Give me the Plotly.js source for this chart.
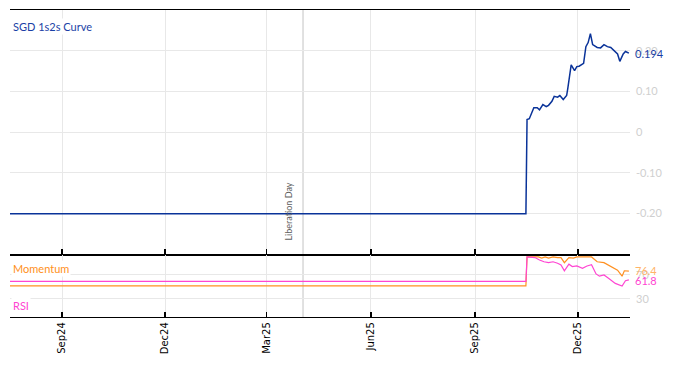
<!DOCTYPE html>
<html><head><meta charset="utf-8">
<script src="https://cdn.plot.ly/plotly-3.0.1.min.js"></script>
<style>html,body{margin:0;padding:0;background:#fff}#chart{width:674px;height:366px}</style>
</head><body><div id="chart"></div><script>
// SGD 1s2s curve
const curveDates = ['2024-07-17','2025-10-16','2025-10-17','2025-10-19','2025-10-23','2025-10-26','2025-10-28','2025-10-31','2025-11-03','2025-11-05','2025-11-08','2025-11-10','2025-11-13','2025-11-15','2025-11-18','2025-11-21','2025-11-22','2025-11-24','2025-11-25','2025-11-28','2025-11-30','2025-12-02','2025-12-06','2025-12-08','2025-12-10','2025-12-12','2025-12-14','2025-12-18','2025-12-21','2025-12-24','2025-12-27','2025-12-30','2026-01-03','2026-01-05','2026-01-07','2026-01-10','2026-01-12','2026-01-15'];
const curveValues = [-0.20,-0.20,0.031,0.033,0.060,0.060,0.055,0.068,0.063,0.066,0.076,0.088,0.086,0.090,0.080,0.090,0.107,0.155,0.165,0.151,0.161,0.162,0.169,0.210,0.220,0.242,0.215,0.208,0.207,0.215,0.210,0.208,0.196,0.192,0.174,0.192,0.198,0.194];
// Momentum
const momDates = ['2024-07-17','2025-10-16','2025-10-17','2025-10-27','2025-10-30','2025-11-02','2025-11-05','2025-11-09','2025-11-13','2025-11-16','2025-11-19','2025-11-23','2025-11-27','2025-11-30','2025-12-13','2025-12-18','2025-12-24','2025-12-28','2026-01-02','2026-01-05','2026-01-09','2026-01-11','2026-01-15'];
const momValues = [52,52,100,100,98,100,98,100,99,99,90.5,99,98,100,100,92,90.5,86.7,81,78,68,77,76.4];
// RSI
const rsiDates = ['2024-07-17','2025-10-16','2025-10-17','2025-10-20','2025-10-24','2025-10-28','2025-11-01','2025-11-05','2025-11-09','2025-11-13','2025-11-16','2025-11-19','2025-11-23','2025-11-26','2025-11-30','2025-12-05','2025-12-09','2025-12-13','2025-12-17','2025-12-20','2025-12-24','2025-12-28','2026-01-03','2026-01-09','2026-01-12','2026-01-15'];
const rsiValues = [59.5,59.5,100,100,99,95,92,90.5,92,89.5,86.7,77,88,84,85,81,85,87,71.7,68,70,64.5,56,51.7,60.5,61.8];
// axis ticks
const curveTicks = [-0.2,-0.1,0,0.1,0.2];
const curveTickText = ['-0.20','-0.10','0','0.10','0.20'];
const oscTicks = [30,70];
const eventDate = '2025-04-02';
const eventLabel = 'Liberation Day';

const blue = '#0a3399', orange = '#ff9020', pink = '#ff45d2';
const grid = '#e8e8e8';
const lastC = curveValues[curveValues.length-1];
const lastM = momValues[momValues.length-1];
const lastR = rsiValues[rsiValues.length-1];

const traces = [
  {x: curveDates, y: curveValues, type:'scatter', mode:'lines', line:{color:blue, width:1.5}, xaxis:'x', yaxis:'y', hoverinfo:'skip'},
  {x: momDates, y: momValues, type:'scatter', mode:'lines', line:{color:orange, width:1.2}, xaxis:'x2', yaxis:'y2', hoverinfo:'skip'},
  {x: rsiDates, y: rsiValues, type:'scatter', mode:'lines', line:{color:pink, width:1.2}, xaxis:'x2', yaxis:'y2', hoverinfo:'skip'}
];
const xr = ['2024-07-17','2026-01-16'];
const xcommon = {type:'date', range:xr, dtick:'M3', tick0:'2024-09-01', tickformat:'%b%y',
  showgrid:true, gridcolor:grid, gridwidth:1, zeroline:false, showline:true, linecolor:'#000', linewidth:1.2,
  mirror:true, ticks:'inside', ticklen:5, tickcolor:'#000', tickwidth:1.2};
const lf = 'Lato, "Open Sans", sans-serif';
const layout = {
  width:674, height:366, margin:{l:10, r:44, t:10, b:49},
  paper_bgcolor:'#fff', plot_bgcolor:'#fff', showlegend:false,
  xaxis: Object.assign({}, xcommon, {anchor:'y', showticklabels:false}),
  xaxis2: Object.assign({}, xcommon, {anchor:'y2', matches:'x', showticklabels:true, tickangle:-90,
    tickfont:{family:'"DejaVu Sans", sans-serif', size:10, color:'#000'}}),
  yaxis: {domain:[0.204,1], range:[-0.3,0.3], side:'right', anchor:'x', tickvals:curveTicks, ticktext:curveTickText,
    showgrid:true, gridcolor:grid, zeroline:false, showline:false, ticks:'', ticklabelstandoff:5,
    tickfont:{family:lf, size:11, color:'#cfcfcf'}},
  yaxis2: {domain:[0,0.202], range:[0,103.3], side:'right', anchor:'x2', tickvals:oscTicks,
    showgrid:true, gridcolor:grid, zeroline:false, showline:false, ticks:'', ticklabelstandoff:5,
    tickfont:{family:lf, size:11, color:'#cfcfcf'}},
  shapes: [
    {type:'line', xref:'x', yref:'paper', x0:eventDate, x1:eventDate, y0:0, y1:1, line:{color:'#c4c4c4', width:1}, layer:'below'}
  ],
  annotations: [
    {text:eventLabel, textangle:-90, xref:'x', yref:'y', x:eventDate, y:-0.272, xanchor:'right', yanchor:'bottom',
      xshift:-7, showarrow:false, font:{family:lf, size:9, color:'#606060'}},
    {text:'SGD 1s2s Curve', xref:'paper', yref:'paper', x:0, y:1, xanchor:'left', yanchor:'top', xshift:1, yshift:-8,
      showarrow:false, bgcolor:'#fff', font:{family:lf, size:11, color:'#1a3fa6'}},
    {text:'Momentum', xref:'paper', yref:'paper', x:0, y:0.1596, xanchor:'left', yanchor:'middle', xshift:1,
      showarrow:false, bgcolor:'#fff', font:{family:lf, size:11, color:orange}},
    {text:'RSI', xref:'paper', yref:'paper', x:0, y:0.036, xanchor:'left', yanchor:'middle', xshift:1,
      showarrow:false, bgcolor:'#fff', font:{family:lf, size:11, color:pink}},
    {text:lastC.toFixed(3), xref:'paper', yref:'y', x:1, y:lastC, xanchor:'left', yanchor:'middle', xshift:3,
      showarrow:false, font:{family:lf, size:11, color:'#1a3fa6'}},
    {text:lastM.toFixed(1), xref:'paper', yref:'y2', x:1, y:lastM, xanchor:'left', yanchor:'middle', xshift:3, yshift:1,
      showarrow:false, font:{family:lf, size:11, color:'#ffb469'}},
    {text:lastR.toFixed(1), xref:'paper', yref:'y2', x:1, y:lastR, xanchor:'left', yanchor:'middle', xshift:3, yshift:-1,
      showarrow:false, font:{family:lf, size:11, color:pink}}
  ]
};
Plotly.newPlot('chart', traces, layout, {staticPlot:true, displayModeBar:false});
</script></body></html>
